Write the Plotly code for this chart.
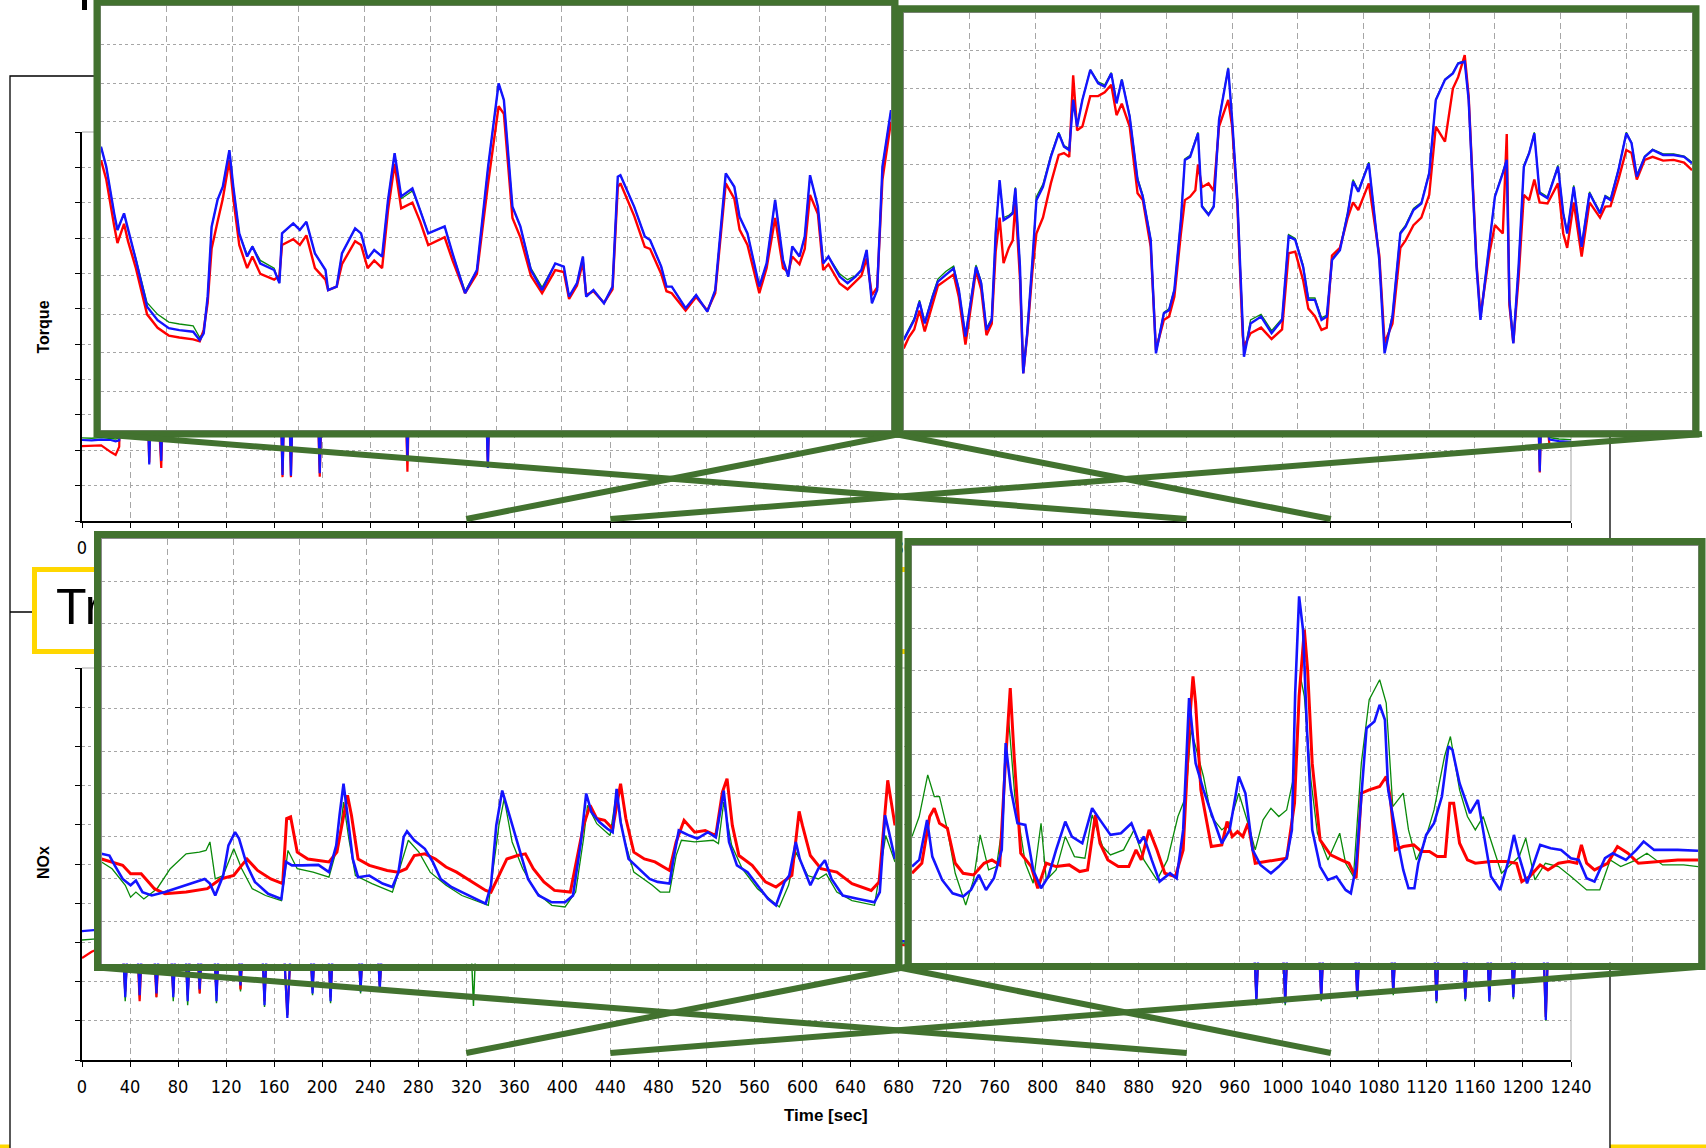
import plotly.graph_objects as go

W, H = 1706, 1148


def px(x):
    return x / W


def py(y):
    return 1 - y / H


# ---------------- text ----------------
X_TICKS = list(range(0, 1241, 40))
TORQUE_LABEL = "Torque"
NOX_LABEL = "NOx"
TIME_LABEL = "Time [sec]"
BOX_TEXT = "Transient Cycle Emissions Simulation (NRTC)"

# zoom windows (seconds)
WIN_A = [920, 1040]   # left insets
WIN_B = [320, 440]    # right insets

# ---------------- background torque (full cycle, mostly hidden) ----------------
T_BG_TQ = [0, 8, 16, 24, 28, 31, 33, 45, 54, 56,
           58, 62, 66, 68, 80, 100, 120, 150, 165, 167,
           169, 172, 174, 176, 185, 196, 198, 200, 230, 260,
           269, 271, 273, 300, 320, 336, 338, 340, 380, 420,
           460, 500, 560, 620, 680, 740, 800, 860, 920, 980,
           1040, 1100, 1160, 1200, 1212, 1214, 1216, 1222, 1230, 1240]
B_BG_TQ = [229, 228, 230, 229, 225, 228, 560, 600, 420, 160,
           430, 440, 170, 450, 500, 620, 700, 520, 400, 130,
           420, 420, 128, 410, 560, 380, 135, 400, 620, 500,
           420, 175, 430, 540, 480, 400, 150, 420, 700, 820,
           560, 500, 640, 520, 600, 700, 780, 640, 720, 520,
           780, 560, 640, 580, 420, 140, 420, 230, 226, 224]
R_BG_TQ = [212, 212, 214, 195, 187, 210, 540, 580, 400, 165,
           410, 420, 150, 430, 480, 600, 680, 500, 390, 124,
           400, 400, 124, 390, 540, 360, 125, 380, 600, 480,
           400, 139, 410, 520, 460, 380, 155, 400, 680, 800,
           540, 480, 620, 500, 580, 680, 760, 620, 700, 500,
           760, 540, 620, 560, 400, 137, 400, 218, 215, 214]
G_BG_TQ = [235, 234, 236, 234, 232, 234, 565, 605, 425, 170,
           435, 445, 175, 455, 505, 625, 705, 525, 405, 135,
           425, 425, 133, 415, 565, 385, 140, 405, 625, 505,
           425, 180, 435, 545, 485, 405, 160, 425, 705, 825,
           565, 505, 645, 525, 605, 705, 785, 645, 725, 525,
           785, 565, 645, 585, 425, 145, 425, 236, 232, 230]

# ---------------- background NOx (full cycle, mostly hidden) ----------------
T_BG_NX = [0, 4, 8, 12, 20, 34, 36, 38, 46, 48,
           50, 60, 62, 64, 74, 76, 78, 86, 88, 90,
           96, 98, 100, 110, 112, 114, 130, 132, 134, 150,
           152, 154, 168, 171, 174, 190, 192, 194, 205, 207,
           209, 230, 232, 234, 246, 248, 250, 290, 324, 326,
           328, 400, 500, 600, 700, 800, 900, 976, 978, 980,
           1000, 1002, 1004, 1030, 1032, 1034, 1060, 1062, 1064, 1090,
           1092, 1094, 1126, 1128, 1130, 1150, 1152, 1154, 1170, 1172,
           1174, 1190, 1192, 1194, 1210, 1217, 1219, 1221, 1223, 1230,
           1240]
B_BG_NX = [329, 330, 331, 332, 300, 290, 160, 290, 300, 165,
           300, 290, 170, 290, 300, 160, 300, 300, 150, 290,
           300, 180, 300, 300, 150, 300, 300, 190, 300, 300,
           140, 300, 300, 107, 300, 300, 170, 300, 300, 150,
           300, 300, 175, 300, 300, 180, 300, 320, 300, 250,
           300, 340, 300, 320, 300, 330, 310, 300, 150, 300,
           300, 145, 300, 300, 155, 300, 300, 160, 300, 300,
           170, 300, 300, 150, 300, 300, 155, 300, 300, 150,
           300, 300, 160, 300, 300, 300, 102, 300, 420, 280,
           300]
R_BG_NX = [260, 268, 276, 281, 290, 280, 175, 280, 290, 150,
           290, 280, 160, 280, 290, 170, 290, 290, 165, 280,
           290, 170, 290, 290, 165, 290, 290, 180, 290, 290,
           150, 290, 290, 115, 290, 290, 180, 290, 290, 160,
           290, 290, 185, 290, 290, 190, 290, 310, 290, 260,
           290, 330, 290, 310, 290, 320, 300, 290, 160, 290,
           290, 150, 290, 290, 160, 290, 290, 165, 290, 290,
           175, 290, 290, 155, 290, 290, 160, 290, 290, 165,
           290, 290, 170, 290, 290, 290, 110, 290, 380, 270,
           290]
G_BG_NX = [306, 307, 308, 309, 295, 285, 150, 285, 295, 155,
           295, 285, 160, 285, 295, 150, 295, 295, 140, 285,
           295, 170, 295, 295, 145, 295, 295, 175, 295, 295,
           135, 295, 295, 112, 295, 295, 165, 295, 295, 145,
           295, 295, 170, 295, 295, 175, 295, 315, 295, 138,
           295, 335, 295, 315, 295, 325, 305, 295, 140, 295,
           295, 140, 295, 295, 150, 295, 295, 155, 295, 295,
           165, 295, 295, 145, 295, 295, 150, 295, 295, 148,
           295, 295, 155, 295, 295, 295, 100, 295, 400, 275,
           295]

# ---------------- inset: torque 920-1040 ----------------
T_TQ_A = [920.0, 920.8, 922.0, 922.5, 923.5, 924.1, 925.3, 927.0, 928.6, 930.3,
          931.9, 934.0, 935.0, 935.6, 936.2, 936.8, 937.7, 938.5, 939.5, 940.1,
          941.0, 942.2, 943.0, 944.2, 946.3, 947.1, 947.5, 949.2, 950.2, 951.2,
          952.5, 954.1, 954.5, 955.8, 956.6, 958.6, 959.5, 960.5, 961.5, 962.7,
          963.6, 964.6, 965.6, 967.3, 968.5, 969.7, 972.2, 973.4, 975.3, 977.1,
          978.8, 980.4, 981.2, 982.5, 983.7, 985.3, 987.0, 989.0, 990.3, 991.1,
          992.3, 993.2, 993.7, 994.8, 996.4, 997.7, 998.5, 998.9, 1001.0, 1002.6,
          1003.4, 1005.1, 1005.9, 1006.7, 1008.8, 1010.4, 1012.1, 1013.3, 1014.9, 1016.2,
          1017.0, 1018.2, 1020.0, 1021.1, 1022.4, 1023.6, 1024.4, 1025.0, 1026.1, 1026.9,
          1027.7, 1028.9, 1029.7, 1030.5, 1032.2, 1033.4, 1034.6, 1035.5, 1036.3, 1037.1,
          1037.9, 1038.7, 1040.0]
B_TQ_A = [735, 683, 562, 519, 562, 519, 441, 320, 285, 264,
          259, 255, 233, 251, 346, 527, 597, 631, 726, 631,
          510, 450, 476, 432, 415, 381, 510, 536, 519, 540,
          458, 415, 363, 372, 458, 523, 510, 445, 467, 450,
          597, 718, 606, 627, 571, 510, 528, 458, 355, 415,
          683, 899, 856, 579, 528, 415, 363, 432, 424, 346,
          381, 450, 346, 363, 329, 372, 657, 661, 579, 502,
          493, 424, 372, 372, 316, 350, 307, 363, 666, 631,
          553, 510, 372, 432, 597, 441, 398, 476, 450, 502,
          661, 579, 432, 450, 398, 381, 398, 415, 467, 329,
          363, 683, 830]
R_TQ_A = [700, 650, 530, 485, 535, 490, 420, 300, 265, 245,
          240, 235, 230, 260, 330, 470, 540, 600, 700, 600,
          480, 420, 450, 405, 390, 400, 480, 495, 480, 505,
          420, 390, 363, 372, 430, 490, 480, 420, 440, 420,
          570, 690, 575, 590, 540, 480, 500, 440, 355, 405,
          640, 840, 820, 550, 500, 400, 355, 415, 410, 340,
          375, 435, 350, 360, 330, 365, 630, 640, 555, 475,
          470, 405, 360, 355, 310, 345, 310, 355, 640, 600,
          520, 480, 355, 420, 550, 420, 410, 450, 430, 470,
          610, 560, 415, 430, 380, 365, 385, 400, 445, 350,
          370, 650, 800]
G_TQ_A = [735, 683, 562, 519, 562, 519, 445, 330, 300, 280,
          275, 270, 240, 255, 346, 527, 597, 631, 726, 631,
          510, 455, 476, 440, 420, 381, 510, 536, 519, 540,
          458, 415, 363, 372, 458, 523, 510, 445, 467, 450,
          597, 718, 600, 620, 571, 510, 528, 458, 360, 415,
          683, 899, 856, 579, 528, 420, 370, 432, 424, 346,
          381, 450, 346, 363, 329, 372, 657, 661, 579, 502,
          493, 424, 372, 372, 316, 350, 307, 363, 666, 631,
          553, 510, 372, 432, 597, 441, 398, 476, 450, 502,
          661, 579, 432, 450, 405, 390, 400, 415, 467, 329,
          363, 683, 830]

# ---------------- inset: torque 320-440 ----------------
T_TQ_B = [320, 320.8, 321.6, 322.4, 323.2, 324.4, 325.2, 326.4, 327.6, 328.4,
          329.4, 330.4, 331, 331.8, 332.6, 333.4, 334, 334.6, 335.2, 336,
          336.6, 337, 337.7, 338.2, 338.8, 339.6, 340.2, 341.2, 342.4, 343.6,
          344.4, 345.2, 345.8, 346.4, 347.2, 348.4, 349.6, 350.6, 351.6, 352.4,
          353.2, 354.4, 355.6, 356.4, 357.6, 358.4, 359.6, 360.4, 361.2, 362.2,
          362.8, 363.6, 364.4, 364.8, 365.4, 366.4, 367.2, 368, 369.4, 370,
          370.8, 371.6, 371.8, 372.8, 374.4, 376, 377.6, 378.6, 379.6, 380.8,
          381.6, 382.6, 383.6, 384.4, 385.2, 386.4, 387.6, 388.4, 389.2, 390.8,
          391.6, 392.4, 393.2, 394.4, 395.6, 396.4, 397.6, 398.8, 400, 401,
          402.4, 403.6, 404.4, 405.4, 406, 407.2, 407.8, 409.2, 410, 411.2,
          411.8, 412.2, 412.8, 413.6, 414.4, 415.2, 416, 416.8, 418, 419.6,
          420.4, 421, 422, 423.2, 424.4, 425.2, 426, 426.8, 427.6, 428.8,
          430, 430.8, 431.6, 432.8, 434, 435.6, 437.2, 438.8, 440]
B_TQ_B = [237, 264, 290, 338, 281, 351, 391, 409, 426, 369,
          246, 360, 430, 387, 264, 290, 518, 659, 553, 562,
          571, 637, 430, 149, 255, 448, 606, 641, 720, 782,
          747, 738, 870, 800, 870, 949, 914, 905, 940, 861,
          923, 826, 659, 615, 501, 202, 308, 316, 369, 553,
          712, 720, 764, 782, 589, 567, 589, 817, 953, 817,
          606, 272, 193, 281, 299, 255, 290, 510, 501, 430,
          343, 343, 290, 299, 448, 474, 571, 655, 628, 703,
          580, 448, 202, 299, 518, 536, 580, 597, 677, 870,
          923, 940, 966, 971, 870, 430, 290, 492, 615, 677,
          712, 343, 228, 430, 694, 729, 782, 624, 611, 694,
          571, 518, 641, 483, 624, 597, 571, 615, 606, 685,
          782, 756, 668, 720, 738, 725, 725, 720, 703]
R_TQ_B = [215, 245, 265, 315, 260, 330, 380, 395, 410, 350,
          225, 345, 420, 370, 250, 280, 470, 560, 440, 480,
          500, 600, 400, 150, 250, 420, 518, 560, 650, 725,
          730, 720, 935, 790, 800, 880, 880, 890, 910, 830,
          860, 800, 624, 606, 483, 211, 290, 299, 351, 518,
          606, 615, 632, 700, 640, 650, 630, 800, 870, 800,
          590, 250, 220, 255, 270, 240, 265, 466, 470, 395,
          320, 300, 264, 270, 460, 480, 560, 600, 580, 650,
          560, 460, 230, 280, 480, 500, 540, 560, 620, 800,
          760, 900, 930, 988, 880, 440, 300, 470, 540, 518,
          780, 330, 230, 400, 620, 606, 660, 600, 597, 650,
          518, 480, 600, 457, 600, 580, 560, 589, 590, 660,
          738, 730, 660, 712, 720, 710, 712, 705, 685]
G_TQ_B = [240, 268, 295, 342, 285, 356, 398, 418, 432, 372,
          250, 365, 435, 392, 268, 295, 530, 655, 560, 566,
          575, 640, 440, 160, 258, 452, 615, 648, 725, 785,
          750, 742, 872, 805, 872, 950, 918, 910, 942, 866,
          925, 830, 665, 620, 505, 210, 310, 320, 372, 560,
          715, 724, 768, 785, 592, 570, 592, 820, 955, 820,
          610, 280, 200, 290, 305, 262, 294, 515, 505, 435,
          348, 348, 296, 302, 452, 478, 576, 660, 632, 706,
          584, 452, 210, 304, 522, 540, 584, 600, 680, 872,
          925, 942, 968, 973, 872, 435, 296, 496, 618, 680,
          715, 348, 235, 435, 698, 732, 785, 628, 615, 698,
          575, 522, 645, 488, 628, 600, 575, 618, 610, 688,
          785, 758, 672, 722, 740, 728, 728, 722, 706]

# ---------------- inset: NOx 920-1040 ----------------
TB_NX_A = [920, 921.2, 922, 923.2, 924.4, 925.2, 926.2, 927.6, 929.6, 932.8,
           935.6, 936.4, 937.2, 938.4, 939.2, 940.2, 940.8, 942, 943.2, 945.2,
           947.2, 947.9, 948.8, 950.4, 952.8, 954.4, 955.5, 956, 956.6, 957.2,
           958, 958.8, 960.5, 962.5, 964, 964.9, 965.7, 966.2, 967.3, 968.9,
           970.1, 971.3, 972.9, 974.5, 976.5, 978.1, 978.9, 979.7, 980.6, 981.7,
           983.3, 984.5, 986.1, 988.1, 990.1, 991.3, 992.5, 993.3, 994.1, 995.3,
           996.5, 997.3, 997.9, 998.5, 999.7, 1001.3, 1002.9, 1004.1, 1005.9, 1006.5,
           1007.3, 1008.9, 1010.1, 1011.7, 1012.9, 1014.1, 1014.9, 1016.1, 1017.7, 1019.6,
           1020.8, 1022, 1023.3, 1024, 1025, 1025.6, 1027.2, 1028.4, 1029.4, 1030.4,
           1032.1, 1034.5, 1036.9, 1037.7, 1038.5, 1039.1, 1040]
B_NX_A = [258, 254, 231, 199, 184, 195, 168, 160, 168, 184,
          199, 188, 160, 207, 278, 309, 294, 231, 192, 164,
          152, 239, 231, 231, 232, 215, 278, 349, 423, 349,
          246, 203, 207, 188, 180, 215, 298, 311, 290, 270,
          239, 199, 180, 168, 152, 141, 184, 325, 407, 349,
          262, 199, 160, 144, 144, 160, 286, 400, 356, 333,
          317, 309, 411, 333, 246, 223, 199, 192, 188, 246,
          313, 301, 294, 309, 297, 407, 286, 231, 215, 176,
          152, 137, 192, 207, 286, 246, 184, 223, 243, 199,
          160, 152, 144, 168, 349, 309, 246]
TR_NX_A = [920, 921.6, 923.2, 924.4, 926, 928, 929.6, 932.8, 936, 938,
           940, 941.2, 942, 943.6, 945.6, 947.4, 948, 948.6, 949.6, 951.2,
           954.4, 955.6, 956.4, 957.2, 957.8, 958.8, 960.5, 963.2, 964.9, 966.1,
           967.3, 968.9, 970.5, 972.1, 973.7, 976.1, 978.1, 978.9, 980.1, 981.3,
           982.9, 984.1, 985.3, 986.9, 988.5, 990.9, 991.7, 992.9, 993.9, 994.9,
           996.1, 997.3, 998.5, 999.3, 1000.5, 1002.1, 1003.7, 1005.9, 1006.9, 1008.1,
           1009.7, 1011.3, 1012.9, 1013.9, 1014.6, 1015.4, 1016.4, 1018.4, 1020.4, 1022,
           1024.4, 1025.5, 1026, 1027.2, 1028.8, 1031.2, 1033.5, 1036.4, 1037.6, 1038.4,
           1038.9, 1040]
R_NX_A = [246, 239, 231, 211, 211, 176, 164, 168, 176, 199,
          207, 231, 246, 219, 199, 188, 341, 345, 262, 246,
          239, 262, 325, 396, 349, 246, 231, 219, 215, 223,
          254, 258, 246, 227, 215, 192, 172, 168, 207, 246,
          254, 258, 223, 192, 172, 168, 231, 325, 372, 341,
          337, 317, 423, 341, 262, 246, 239, 219, 286, 337,
          309, 313, 301, 403, 435, 325, 254, 231, 192, 180,
          207, 358, 325, 254, 223, 215, 188, 172, 192, 341,
          431, 325]
TG_NX_A = [920, 921.6, 923.6, 924.4, 925.2, 926.4, 928.4, 930.4, 932.8, 934.8,
           935.8, 936.4, 937.2, 938.4, 940, 941.2, 942.8, 944.8, 947.2, 948.2,
           949.6, 952, 954.4, 956, 956.6, 957.4, 958.4, 960.9, 964, 965.3,
           966.4, 968, 969.7, 972.1, 974.5, 978.5, 980.1, 980.9, 982.1, 983.7,
           985.7, 988.1, 990.1, 991.7, 992.9, 993.5, 994.9, 996.9, 997.9, 998.9,
           1000.5, 1003.3, 1004.5, 1005.9, 1006.9, 1007.7, 1009.7, 1012.5, 1013.3, 1014.1,
           1015.3, 1016.9, 1019.2, 1022.5, 1023.9, 1025, 1026.8, 1028.4, 1029.6, 1031.2,
           1033.5, 1036.9, 1038.1, 1038.6, 1040]
G_NX_A = [239, 223, 184, 156, 168, 152, 176, 223, 258, 262,
          266, 286, 199, 207, 270, 223, 176, 160, 148, 266,
          223, 215, 203, 294, 380, 294, 207, 188, 168, 231,
          290, 262, 215, 184, 160, 137, 325, 388, 286, 223,
          168, 137, 133, 168, 294, 372, 329, 301, 403, 301,
          215, 184, 168, 168, 254, 290, 286, 290, 282, 380,
          278, 223, 176, 133, 184, 262, 207, 199, 211, 168,
          148, 137, 246, 301, 239]

# ---------------- inset: NOx 320-440 ----------------
TB_NX_B = [320, 321.1, 322.3, 323.1, 324.6, 326.2, 327.8, 329, 330.2, 331.3,
           332.5, 333.7, 334.3, 335.1, 336.1, 337.3, 338.5, 339.7, 340.8, 342,
           343.4, 344.4, 346, 347.5, 348.7, 350.3, 351.9, 353.5, 354.7, 355.4,
           356.6, 357.8, 359.4, 360.4, 361.4, 362.3, 363.3, 364.5, 365.7, 367.3,
           368.5, 369.9, 370.9, 372, 373.2, 374.8, 376, 377.2, 378, 378.5,
           379.1, 379.7, 380.3, 381.1, 382.3, 383.5, 384.8, 386.2, 387, 387.8,
           388.6, 389.4, 390.6, 391.4, 392.2, 392.7, 393.8, 395, 395.8, 396.7,
           397.3, 398.5, 399.7, 400.9, 401.9, 402.5, 403.6, 405.2, 406.4, 407.2,
           408.4, 409.8, 411.1, 411.9, 412.7, 413.9, 415.1, 415.9, 417.5, 419.1,
           420.6, 421.8, 423, 424.2, 425.8, 427, 429, 430.6, 431.7, 433.3,
           436.9, 440]
B_NX_B = [230, 246, 342, 254, 198, 166, 158, 174, 210, 174,
          202, 270, 526, 414, 334, 330, 222, 178, 206, 270,
          338, 302, 286, 370, 342, 306, 310, 334, 286, 302,
          246, 194, 214, 202, 318, 634, 478, 414, 358, 286,
          318, 446, 406, 270, 234, 214, 230, 250, 318, 646,
          878, 798, 558, 318, 230, 198, 206, 174, 166, 230,
          398, 562, 578, 618, 582, 414, 318, 222, 178, 178,
          238, 306, 334, 398, 518, 510, 430, 358, 390, 318,
          206, 174, 246, 306, 254, 190, 246, 282, 274, 270,
          250, 246, 202, 194, 250, 262, 246, 270, 290, 270,
          270, 268]
TR_NX_B = [320, 321.5, 322.7, 323.4, 324.2, 325.4, 326.6, 327.8, 329.4, 331,
           332.2, 333.4, 334.2, 335, 335.6, 336.6, 338.2, 339.2, 340.5, 342,
           344, 345.6, 346.8, 348, 348.7, 349.9, 351.5, 353.1, 354.2, 355,
           356.2, 357.4, 358.6, 360.2, 361.4, 362.4, 362.9, 363.3, 364.1, 365.7,
           367.3, 368.1, 368.9, 369.7, 370.5, 371.3, 372.4, 374, 376, 377.2,
           378.4, 379.1, 379.5, 379.9, 380.4, 381.1, 382.3, 383.9, 385.5, 386.7,
           387.8, 388.6, 389.8, 391.4, 392.4, 393, 393.8, 395, 396.6, 397.8,
           399, 400.2, 401.4, 402.1, 402.7, 403.6, 404.8, 406, 408.4, 410.7,
           412.3, 413.1, 414.3, 415.9, 417.1, 418.7, 420.3, 421.5, 422.2, 423,
           424.2, 426.2, 427.7, 429.3, 430.9, 433.7, 436.9, 440]
R_NX_B = [214, 238, 350, 370, 334, 322, 238, 214, 210, 238,
          246, 234, 462, 658, 494, 262, 230, 178, 238, 230,
          234, 218, 222, 354, 286, 246, 230, 230, 270, 246,
          318, 270, 214, 206, 270, 582, 686, 622, 414, 278,
          282, 338, 302, 314, 302, 334, 238, 242, 246, 250,
          382, 638, 718, 798, 702, 478, 294, 258, 246, 238,
          202, 406, 414, 422, 446, 398, 270, 278, 282, 266,
          266, 254, 254, 382, 382, 286, 246, 238, 242, 242,
          238, 194, 206, 234, 222, 238, 242, 238, 282, 238,
          222, 238, 278, 262, 238, 242, 246, 246]
TG_NX_B = [320, 321.1, 322.4, 323.4, 324.2, 325.4, 326.6, 328.2, 329.4, 330.4,
           331.7, 332.9, 333.7, 334.7, 335.7, 337.3, 338.5, 339.7, 340.5, 342,
           343.4, 344.8, 346.4, 347.5, 349.1, 350.3, 352.3, 353.9, 355.4, 357.4,
           359, 360.6, 361.8, 362.6, 363.3, 364.5, 365.7, 367.3, 368.5, 369.9,
           371.3, 372.4, 373.6, 374.8, 376, 377.2, 378.4, 379.3, 379.9, 380.9,
           381.9, 383.5, 385.3, 386.2, 387.4, 388.6, 389.8, 391.4, 392.4, 393.4,
           395, 395.8, 397, 398.2, 399.7, 401.3, 402.2, 403.6, 404.8, 406,
           407.2, 408.4, 410, 411.1, 412.7, 413.7, 415.1, 416.7, 418.7, 420.6,
           423, 425, 426.6, 428.2, 430.6, 432.2, 434.6, 437.8, 440]
G_NX_B = [302, 350, 450, 398, 398, 318, 214, 138, 198, 306,
          222, 230, 318, 594, 398, 238, 190, 334, 198, 222,
          302, 254, 250, 354, 278, 258, 270, 318, 246, 198,
          246, 350, 398, 558, 518, 446, 350, 318, 334, 406,
          334, 270, 342, 370, 350, 366, 454, 686, 638, 438,
          310, 246, 310, 238, 206, 478, 630, 678, 622, 374,
          406, 318, 246, 286, 366, 494, 542, 414, 350, 318,
          350, 294, 214, 230, 254, 298, 198, 238, 230, 206,
          174, 174, 246, 230, 246, 262, 234, 234, 230]

# ---------------- styling ----------------
RED, BLUE, GREEN = "#FF0000", "#1414FF", "#0A8A0A"
FRAME_GREEN = "#42722F"
GRID = "#A6A6A6"
NARROW = "Liberation Sans Narrow, Arial Narrow, DejaVu Sans Condensed, sans-serif"
SANS = "Liberation Sans, Arial, sans-serif"

fig = go.Figure()


def add_lines(series, xa, ya):
    for t, vals, col, w in series:
        fig.add_trace(go.Scatter(x=t, y=vals, xaxis=xa, yaxis=ya, mode="lines",
                                 line=dict(color=col, width=w), hoverinfo="skip",
                                 showlegend=False))


# subplot 1: torque background
add_lines([(T_BG_TQ, G_BG_TQ, GREEN, 1.4), (T_BG_TQ, R_BG_TQ, RED, 2.2),
           (T_BG_TQ, B_BG_TQ, BLUE, 2.2)], "x", "y")
# subplot 2: NOx background
add_lines([(T_BG_NX, G_BG_NX, GREEN, 1.4), (T_BG_NX, R_BG_NX, RED, 2.2),
           (T_BG_NX, B_BG_NX, BLUE, 2.2)], "x2", "y2")
# subplot 3: slide text (under the insets)
fig.add_trace(go.Scatter(x=[56], y=[611], xaxis="x3", yaxis="y3", mode="text",
                         text=[BOX_TEXT], textposition="middle right",
                         textfont=dict(family=SANS, size=50, color="black"),
                         cliponaxis=False, hoverinfo="skip", showlegend=False))
# insets
add_lines([(T_TQ_A, G_TQ_A, GREEN, 1.3), (T_TQ_A, R_TQ_A, RED, 2.4),
           (T_TQ_A, B_TQ_A, BLUE, 2.4)], "x4", "y4")
add_lines([(T_TQ_B, G_TQ_B, GREEN, 1.3), (T_TQ_B, R_TQ_B, RED, 2.4),
           (T_TQ_B, B_TQ_B, BLUE, 2.4)], "x5", "y5")
add_lines([(TG_NX_A, G_NX_A, GREEN, 1.3), (TR_NX_A, R_NX_A, RED, 3),
           (TB_NX_A, B_NX_A, BLUE, 2.6)], "x6", "y6")
add_lines([(TG_NX_B, G_NX_B, GREEN, 1.3), (TR_NX_B, R_NX_B, RED, 3),
           (TB_NX_B, B_NX_B, BLUE, 2.6)], "x7", "y7")

# ---------------- axes ----------------
CH_X0, CH_X1 = 82, 1571


def main_x(anchor, show_labels=True):
    return dict(domain=[px(CH_X0), px(CH_X1)], range=[X_TICKS[0], X_TICKS[-1]],
                tickvals=X_TICKS, ticktext=[str(v) for v in X_TICKS],
                ticks="outside", ticklen=5, tickcolor="black",
                showline=True, linecolor="black", linewidth=2,
                showgrid=True, gridcolor=GRID, griddash="6px,4px", gridwidth=1,
                zeroline=False, anchor=anchor, showticklabels=show_labels,
                automargin=False, ticklabelstandoff=4,
                tickfont=dict(family=NARROW, size=18, color="black"))


def main_y(anchor, top, bottom, vmax):
    return dict(domain=[py(bottom), py(top)], range=[0, vmax], dtick=100,
                ticks="outside", ticklen=5, tickcolor="black", automargin=False,
                showticklabels=False, showline=True, linecolor="black", linewidth=1.5,
                showgrid=True, gridcolor=GRID, griddash="3px,3px", gridwidth=1,
                zeroline=False, anchor=anchor)


def inset_x(anchor, x0, x1, win):
    return dict(domain=[px(x0), px(x1)], range=win, tick0=win[0], dtick=10,
                showticklabels=False, ticks="", showline=True, mirror=True,
                linecolor="#8A8A8A", linewidth=1, showgrid=True, gridcolor=GRID,
                griddash="6px,4px", gridwidth=1, zeroline=False, anchor=anchor,
                automargin=False)


def inset_y(anchor, top, bottom, vmax):
    return dict(domain=[py(bottom), py(top)], range=[0, vmax], dtick=100,
                showticklabels=False, ticks="", showline=True, mirror=True,
                linecolor="#8A8A8A", linewidth=1, showgrid=True, gridcolor=GRID,
                griddash="3px,3px", gridwidth=1, zeroline=False, anchor=anchor,
                automargin=False)


# inner plot areas of insets (pixel boxes)
TL = (101, 6, 891, 430)
TR = (903.7, 12.7, 1692, 430)
BL = (101.5, 538.5, 895, 963.5)
BR = (912, 545.5, 1698, 962.5)

fig.update_layout(
    width=W, height=H, autosize=False,
    margin=dict(l=0, r=0, t=0, b=0, pad=0, autoexpand=False),
    paper_bgcolor="white", plot_bgcolor="white",
    showlegend=False,
    xaxis=main_x("y"),
    yaxis=main_y("x", 132, 521, 1100),
    xaxis2=main_x("y2"),
    yaxis2=main_y("x2", 668, 1060, 1000),
    xaxis3=dict(domain=[0, 1], range=[0, W], visible=False, anchor="y3"),
    yaxis3=dict(domain=[py(654), py(567)], range=[654, 567], visible=False, anchor="x3"),
    xaxis4=inset_x("y4", TL[0], TL[2], WIN_A),
    yaxis4=inset_y("x4", TL[1], TL[3], 1100),
    xaxis5=inset_x("y5", TR[0], TR[2], WIN_B),
    yaxis5=inset_y("x5", TR[1], TR[3], 1100),
    xaxis6=inset_x("y6", BL[0], BL[2], WIN_A),
    yaxis6=inset_y("x6", BL[1], BL[3], 1000),
    xaxis7=inset_x("y7", BR[0], BR[2], WIN_B),
    yaxis7=inset_y("x7", BR[1], BR[3], 1000),
)


def tx(t):
    return CH_X0 + (t - X_TICKS[0]) * (CH_X1 - CH_X0) / (X_TICKS[-1] - X_TICKS[0])


shapes = []


def rect(x0, y0, x1, y1, line_color, width, fill="rgba(0,0,0,0)", layer="below"):
    shapes.append(dict(type="rect", xref="paper", yref="paper",
                       x0=px(x0), x1=px(x1), y0=py(y1), y1=py(y0),
                       line=dict(color=line_color, width=width),
                       fillcolor=fill, layer=layer))


def seg(x0, y0, x1, y1, color, width, layer="below"):
    shapes.append(dict(type="line", xref="paper", yref="paper",
                       x0=px(x0), x1=px(x1), y0=py(y0), y1=py(y1),
                       line=dict(color=color, width=width), layer=layer))


# slide decorations (below everything)
rect(2, 1147, 1704, 1200, "#FFD700", 5, fill="white")
rect(10, 76, 1610, 1200, "black", 1.3, fill="white")
seg(10, 612, 1610, 612, "black", 1.3)
rect(34.5, 569.5, 1650, 651.5, "#FFD700", 5, fill="white")
rect(82, -2, 87, 10, "black", 0, fill="black")
# grey frames of the two background charts
for top, bot in [(132, 521), (668, 1060)]:
    seg(CH_X0, top, CH_X1, top, GRID, 1)
    seg(CH_X1, top, CH_X1, bot, GRID, 1)

# green inset frames + connectors (above)
for (x0, y0, x1, y1) in [TL, TR, BL, BR]:
    rect(x0 - 4, y0 - 4, x1 + 4, y1 + 4, FRAME_GREEN, 7, layer="above")

GW = 6
seg(TL[0] - 4, 434, tx(WIN_A[0]), 519, FRAME_GREEN, GW, "above")
seg(TL[2] + 4, 434, tx(WIN_A[1]), 519, FRAME_GREEN, GW, "above")
seg(TR[0] - 4, 434, tx(WIN_B[0]), 519, FRAME_GREEN, GW, "above")
seg(1702, 434, tx(WIN_B[1]), 519, FRAME_GREEN, GW, "above")
seg(BL[0] - 4, 967.5, tx(WIN_A[0]), 1053, FRAME_GREEN, GW, "above")
seg(BL[2] + 4, 967.5, tx(WIN_A[1]), 1053, FRAME_GREEN, GW, "above")
seg(BR[0] - 4, 966.5, tx(WIN_B[0]), 1053, FRAME_GREEN, GW, "above")
seg(1704, 966.5, tx(WIN_B[1]), 1053, FRAME_GREEN, GW, "above")

fig.update_layout(shapes=shapes)

anns = [
    dict(text=TORQUE_LABEL, x=px(43.5), y=py(327), textangle=-90, size=16),
    dict(text=NOX_LABEL, x=px(43), y=py(863), textangle=-90, size=16),
    dict(text=TIME_LABEL, x=px(826), y=py(1115), textangle=0, size=17),
]
fig.update_layout(annotations=[
    dict(text=a["text"], x=a["x"], y=a["y"], textangle=a["textangle"],
         xref="paper", yref="paper", showarrow=False, xanchor="center", yanchor="middle",
         font=dict(family=SANS, size=a["size"], color="black", weight="bold"))
    for a in anns
])

fig.write_html("out.html")
